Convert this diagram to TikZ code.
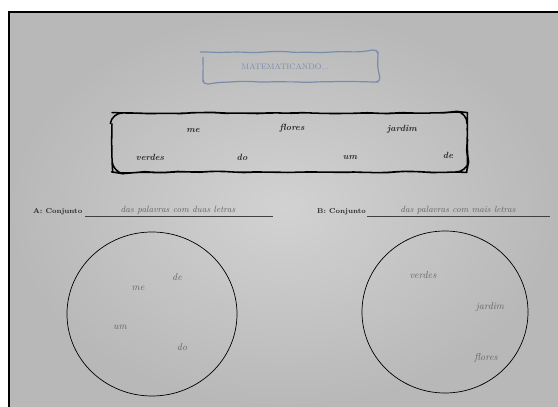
\documentclass[tikz,border=0pt]{standalone}
\usetikzlibrary{decorations.pathmorphing}
\definecolor{paperin}{RGB}{210,210,210}
\definecolor{paperout}{RGB}{184,184,184}
\definecolor{titleblue}{RGB}{120,140,172}
\definecolor{pencil}{RGB}{100,100,100}
\tikzset{
  wavy/.style={decorate,decoration={random steps,segment length=11pt,amplitude=0.7pt},line join=round},
  titlebox/.style={wavy,draw=titleblue,line width=1.2pt},
  wordbox/.style={wavy,draw=black,line width=1.5pt},
  word/.style={font=\itshape\bfseries\small,text=black!85,inner sep=0pt},
  label/.style={font=\bfseries\scriptsize,text=black!85,inner sep=0pt},
  hand/.style={font=\itshape\normalsize,text=pencil,inner sep=0pt},
  handline/.style={font=\itshape\small,text=pencil,inner sep=0pt},
  setcircle/.style={draw=black,line width=0.7pt},
  writeline/.style={draw=black!75,line width=0.6pt}
}
\begin{document}
\begin{tikzpicture}[x=1pt,y=-1pt]
\pgfmathsetseed{7}
\useasboundingbox (0,0) rectangle (558,407);
\fill[white] (0,0) rectangle (558,407);
% sheet of paper
\shade[inner color=paperin,outer color=paperout] (9,12) rectangle (558,407);
\draw[line width=1.8pt] (9,407) -- (9,12) -- (558,12);

% title
\draw[titlebox] (203,52) [rounded corners=5pt] rectangle (378,82);
\node[font=\footnotesize,text=titleblue] (title) at (285,67) {MATEMATICANDO...};

% word box
\draw[wordbox] (112,113) [rounded corners=11pt] rectangle (467,172);
\node[word] (w1) at (193,131) {me};
\node[word] (w2) at (292,128) {flores};
\node[word] (w3) at (402,129) {jardim};
\node[word] (w4) at (150,157) {verdes};
\node[word] (w5) at (242,157) {do};
\node[word] (w6) at (350,158) {um};
\node[word] (w7) at (448,155) {de};

% set A
\node[label,anchor=west] (la) at (33,212) {A: Conjunto};
\coordinate (la1) at (85,216);
\coordinate (la2) at (273,216);
\draw[writeline] (la1) -- (la2);
\node[handline] (ta) at (178,210) {das palavras com duas letras};
\draw[setcircle] (152,314) ellipse (85pt and 82pt);
\node[hand] (a1) at (177,277) {de};
\node[hand] (a2) at (138,288) {me};
\node[hand] (a3) at (120,327) {um};
\node[hand] (a4) at (182,347) {do};

% set B
\node[label,anchor=west] (lb) at (317,212) {B: Conjunto};
\coordinate (lb1) at (367,216);
\coordinate (lb2) at (550,216);
\draw[writeline] (lb1) -- (lb2);
\node[handline] (tb) at (458,210) {das palavras com mais letras};
\draw[setcircle] (445,312) ellipse (83pt and 81pt);
\node[hand] (b1) at (423,275) {verdes};
\node[hand] (b2) at (490,307) {jardim};
\node[hand] (b3) at (486,358) {flores};
\end{tikzpicture}
\end{document}
